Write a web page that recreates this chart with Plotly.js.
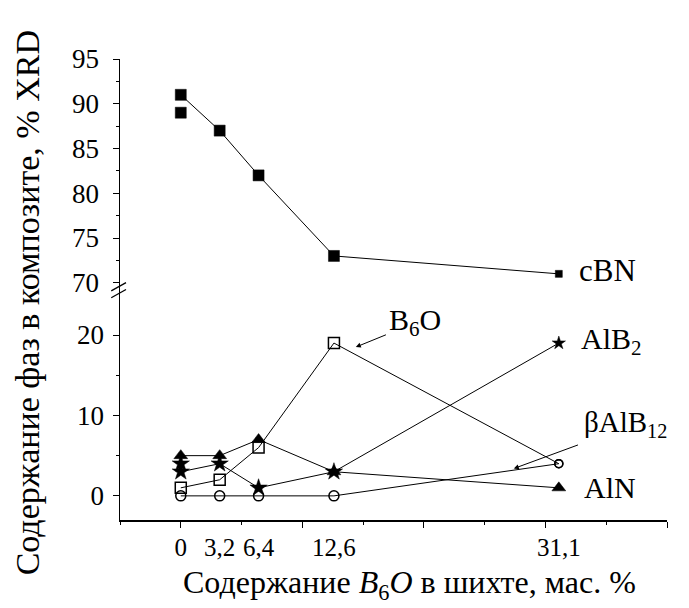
<!DOCTYPE html>
<html><head><meta charset="utf-8">
<script src="https://cdn.plot.ly/plotly-3.0.1.min.js"></script>
<style>html,body{margin:0;padding:0;background:#fff}</style>
</head><body>
<div id="chart" style="width:689px;height:608px"></div>
<script>
// Data (x = B6O content in charge, mass %)
const xVals = [0, 3.2, 6.4, 12.6, 31.1];
const xTickText = ['0', '3,2', '6,4', '12,6', '31,1'];
const cBN = [91, 87, 82, 73, 71];
const cBNextraX = [0];
const cBNextraY = [89];
const B6O = [1, 2, 6, 19, 4];
const AlB2 = [3, 4, 1, 3, 19];
const AlB2extraX = [0];
const AlB2extraY = [4];
const AlN = [5, 5, 7, 3, 1];
const bAlB12 = [0, 0, 0, 0, 4];
const upperTicks = [70, 75, 80, 85, 90, 95];
const lowerTicks = [0, 10, 20];

const F = 'Liberation Serif, Times New Roman, serif';
const line = {color: '#000', width: 1};
const mlFill = {color: '#000', width: 0.5};
const mlOpen = {color: '#000', width: 1.5};
const traces = [
  {x: xVals, y: cBN, xaxis: 'x2', yaxis: 'y2', mode: 'lines+markers', line,
   marker: {symbol: 'square', color: '#000', opacity: 1, size: [11, 11, 11, 11, 7], line: mlFill}},
  {x: cBNextraX, y: cBNextraY, xaxis: 'x2', yaxis: 'y2', mode: 'markers',
   marker: {symbol: 'square', color: '#000', opacity: 1, size: 11, line: mlFill}},
  {x: xVals, y: bAlB12, mode: 'lines+markers', line,
   marker: {symbol: 'circle-open', color: '#000', opacity: 1, size: [10, 10, 10, 10, 8], line: mlOpen}},
  {x: xVals, y: B6O, mode: 'lines+markers', line,
   marker: {symbol: ['square-open','square-open','square-open','square-open','circle-open'], color: '#000', opacity: 1, size: [11, 11, 11, 11, 8], line: mlOpen}},
  {x: xVals, y: AlB2, mode: 'lines+markers', line,
   marker: {symbol: 'star', color: '#000', opacity: 1, size: [13, 13, 13, 13, 10], line: mlFill}},
  {x: AlB2extraX, y: AlB2extraY, mode: 'markers',
   marker: {symbol: 'star', color: '#000', opacity: 1, size: 13, line: mlFill}},
  {x: xVals, y: AlN, mode: 'lines+markers', line,
   marker: {symbol: 'triangle-up', color: '#000', opacity: 1, size: 12, line: mlFill}},
  {x: [], y: [], xaxis: 'x3', yaxis: 'y', mode: 'markers'}
];

const xr = [-5, 40];
const layout = {
  width: 689, height: 608,
  margin: {l: 120, r: 22, t: 59, b: 88},
  paper_bgcolor: '#fff', plot_bgcolor: '#fff',
  showlegend: false,
  font: {family: F, color: '#000', size: 24},
  xaxis: {domain: [0, 1], range: xr, anchor: 'y', showgrid: false, zeroline: false,
    showline: true, linecolor: '#000', linewidth: 1.5,
    tickmode: 'linear', tick0: 0, dtick: 10, ticks: 'outside', ticklen: 6, tickcolor: '#000',
    showticklabels: false,
    minor: {tickmode: 'linear', tick0: 5, dtick: 10, ticks: 'outside', ticklen: 3, tickcolor: '#000'}},
  xaxis3: {overlaying: 'x', range: xr, anchor: 'y', side: 'bottom', showgrid: false, zeroline: false,
    showline: false, tickmode: 'array', tickvals: xVals, ticktext: xTickText, ticks: '',
    ticklabelstandoff: 10, tickfont: {family: F, size: 25, color: '#000'}},
  yaxis: {domain: [0, 0.499], range: [-3, 25.6], anchor: 'x', showgrid: false, zeroline: false,
    showline: true, linecolor: '#000', linewidth: 1.5,
    tickmode: 'array', tickvals: lowerTicks, ticks: 'outside', ticklen: 6, tickcolor: '#000',
    minor: {tickmode: 'array', tickvals: [5, 15], ticks: 'outside', ticklen: 3, tickcolor: '#000'},
    ticklabelstandoff: 3, tickfont: {family: F, size: 27, color: '#000'}},
  xaxis2: {domain: [0, 1], range: xr, anchor: 'y2', visible: false},
  yaxis2: {domain: [0.499, 1], range: [69.2, 95], anchor: 'x2', showgrid: false, zeroline: false,
    showline: true, linecolor: '#000', linewidth: 1.5,
    tickmode: 'array', tickvals: upperTicks, ticks: 'outside', ticklen: 6, tickcolor: '#000',
    minor: {tickmode: 'array', tickvals: [72.5, 77.5, 82.5, 87.5, 92.5], ticks: 'outside', ticklen: 3, tickcolor: '#000'},
    ticklabelstandoff: 8, tickfont: {family: F, size: 27, color: '#000'}},
  shapes: [
    {type: 'line', xref: 'paper', yref: 'paper', x0: -0.016, y0: 0.497, x1: 0.011, y1: 0.515, line: {color: '#000', width: 1.3}},
    {type: 'line', xref: 'paper', yref: 'paper', x0: -0.016, y0: 0.482, x1: 0.011, y1: 0.500, line: {color: '#000', width: 1.3}}
  ],
  annotations: [
    {xref: 'paper', yref: 'paper', x: -0.17, y: 0.47, text: 'Содержание фаз в композите, % XRD',
     textangle: -90, showarrow: false, font: {family: F, size: 34}, xanchor: 'center', yanchor: 'middle'},
    {xref: 'paper', yref: 'paper', x: 0.53, y: -0.14, text: 'Содержание <i>B</i><sub>6</sub><i>O</i> в шихте, мас. %',
     showarrow: false, font: {family: F, size: 32}, xanchor: 'center', yanchor: 'middle'},
    {xref: 'x2', yref: 'y2', x: 32.6, y: 71.4, text: 'cBN', showarrow: false, xanchor: 'left', yanchor: 'middle', font: {family: F, size: 31}},
    {xref: 'x', yref: 'y', x: 17.0, y: 21.6, text: 'B<sub>6</sub>O', showarrow: false, xanchor: 'left', yanchor: 'middle', font: {family: F, size: 30}},
    {xref: 'x', yref: 'y', x: 32.8, y: 19.3, text: 'AlB<sub>2</sub>', showarrow: false, xanchor: 'left', yanchor: 'middle', font: {family: F, size: 30}},
    {xref: 'x', yref: 'y', x: 33.0, y: 8.9, text: 'βAlB<sub>12</sub>', showarrow: false, xanchor: 'left', yanchor: 'middle', font: {family: F, size: 29}},
    {xref: 'x', yref: 'y', x: 33.0, y: 1.0, text: 'AlN', showarrow: false, xanchor: 'left', yanchor: 'middle', font: {family: F, size: 30}},
    {xref: 'x', yref: 'y', axref: 'x', ayref: 'y', x: 14.4, y: 18.5, ax: 17.0, ay: 20.1, text: '',
     showarrow: true, arrowhead: 2, arrowsize: 1, arrowwidth: 1, arrowcolor: '#000', standoff: 0, startstandoff: 0},
    {xref: 'x', yref: 'y', axref: 'x', ayref: 'y', x: 27.4, y: 3.4, ax: 32.8, ay: 6.4, text: '',
     showarrow: true, arrowhead: 2, arrowsize: 1, arrowwidth: 1, arrowcolor: '#000', standoff: 0, startstandoff: 0}
  ]
};
Plotly.newPlot('chart', traces, layout, {displayModeBar: false, staticPlot: true});
</script>
</body></html>
